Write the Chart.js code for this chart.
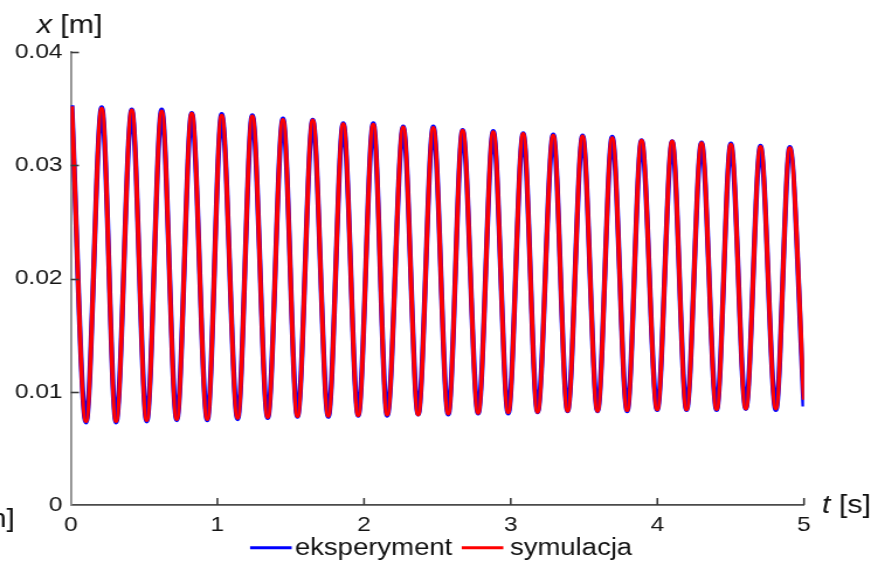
<!DOCTYPE html>
<html><head><meta charset="utf-8">
<script src="https://cdn.jsdelivr.net/npm/chart.js@4/dist/chart.umd.min.js"></script>
<style>
html,body{margin:0;padding:0;background:#fff;overflow:hidden;}
#wrap{width:745px;height:561px;transform:scaleX(1.16913);transform-origin:0 0;}
canvas{display:block;}
</style></head><body>
<div id="wrap"><canvas id="c" width="745" height="561"></canvas></div>
<script>
// ---- data (t in s, x in m) ----
const peakTimes = [0.007, 0.211, 0.416, 0.620, 0.825, 1.029, 1.238, 1.447, 1.650, 1.858, 2.063, 2.267, 2.472, 2.672, 2.881, 3.085, 3.290, 3.490, 3.692, 3.892, 4.101, 4.301, 4.501, 4.703, 4.903];
const troughTimes = [0.104, 0.309, 0.518, 0.723, 0.931, 1.138, 1.343, 1.546, 1.756, 1.960, 2.158, 2.369, 2.574, 2.778, 2.983, 3.183, 3.388, 3.592, 3.794, 3.999, 4.199, 4.404, 4.603, 4.808];
const endTime = 5.0;

const simPeaks = [0.0352, 0.0350, 0.03485, 0.03476, 0.03456, 0.03438, 0.03432, 0.0340, 0.03397, 0.03364, 0.03359, 0.03335, 0.03329, 0.03306, 0.03293, 0.03276, 0.03261, 0.03255, 0.03240, 0.03217, 0.03211, 0.03196, 0.03182, 0.03161, 0.03152];
const simTroughs = [0.0074, 0.0074, 0.00749, 0.00758, 0.00758, 0.0077, 0.00776, 0.00784, 0.00788, 0.00793, 0.00799, 0.00799, 0.00808, 0.00814, 0.00817, 0.00823, 0.00832, 0.00832, 0.00837, 0.00844, 0.00844, 0.00846, 0.00852, 0.00852];
const simEnd = 0.0093;

const expPeaks = [0.0353, 0.0351, 0.0349, 0.0349, 0.0346, 0.0345, 0.0344, 0.0341, 0.0340, 0.0337, 0.0337, 0.0334, 0.0334, 0.0331, 0.0330, 0.0328, 0.0327, 0.0326, 0.0325, 0.0322, 0.0321, 0.0320, 0.0319, 0.0317, 0.0316];
const expTroughs = [0.0073, 0.0073, 0.0074, 0.0075, 0.0075, 0.0076, 0.0077, 0.0078, 0.0078, 0.0079, 0.0079, 0.0080, 0.0080, 0.0081, 0.0081, 0.0082, 0.0083, 0.0083, 0.0083, 0.0084, 0.0084, 0.0084, 0.0085, 0.0084];
const expEnd = 0.0087;

const xTicks = [0, 1, 2, 3, 4, 5];
const yTicks = [0, 0.01, 0.02, 0.03, 0.04];
const seriesNames = ['eksperyment', 'symulacja'];
const xLabel = ['t', ' [s]'];
const yLabel = ['x', ' [m]'];

function buildSeries(peaks, troughs, endVal) {
  const pts = [];
  peakTimes.forEach((t, i) => pts.push({x: t, y: peaks[i]}));
  troughTimes.forEach((t, i) => pts.push({x: t, y: troughs[i]}));
  pts.push({x: endTime, y: endVal});
  pts.sort((a, b) => a.x - b.x);
  return pts;
}

const FONT = "'Liberation Sans', Arial, sans-serif";

const decor = {
  id: 'decor',
  afterDraw(chart) {
    const ctx = chart.ctx;
    const a = chart.chartArea;
    const xs = chart.scales.x, ys = chart.scales.y;
    ctx.save();
    // inward ticks
    ctx.lineWidth = 1.6;
    ctx.strokeStyle = '#3a3a3a';
    yTicks.forEach(v => {
      if (v === 0) return;
      const y = Math.round(ys.getPixelForValue(v)) + 0.5;
      ctx.beginPath(); ctx.moveTo(a.left, y); ctx.lineTo(a.left + 7, y); ctx.stroke();
    });
    xTicks.forEach(v => {
      if (v === 0) return;
      const x = xs.getPixelForValue(v);
      ctx.beginPath(); ctx.moveTo(x, a.bottom); ctx.lineTo(x, a.bottom - 7); ctx.stroke();
    });
    // axis titles
    ctx.fillStyle = '#111';
    ctx.textBaseline = 'alphabetic';
    ctx.textAlign = 'left';
    let x0 = 31.4;
    ctx.font = 'italic 26px ' + FONT;
    ctx.fillText(yLabel[0], x0, 32.5);
    x0 += ctx.measureText(yLabel[0]).width;
    ctx.font = '26px ' + FONT;
    ctx.fillText(yLabel[1], x0, 32.5);

    x0 = 703.1;
    ctx.font = 'italic 26px ' + FONT;
    ctx.fillText(xLabel[0], x0, 512.5);
    x0 += ctx.measureText(xLabel[0]).width;
    ctx.font = '26px ' + FONT;
    ctx.fillText(xLabel[1], x0, 512.5);

    // cut-off label from neighbouring figure at left edge
    ctx.textAlign = 'right';
    ctx.fillText('m]', 12.8, 526.5);

    // legend
    ctx.textAlign = 'left';
    ctx.font = '23.5px ' + FONT;
    const cols = ['#0000ff', '#ff0000'];
    const lx = [[213.9, 249.5, 252.3], [394.9, 430.5, 436.2]];
    for (let i = 0; i < 2; i++) {
      ctx.strokeStyle = cols[i];
      ctx.lineWidth = 3;
      ctx.beginPath(); ctx.moveTo(lx[i][0], 547.7); ctx.lineTo(lx[i][1], 547.7); ctx.stroke();
      ctx.fillStyle = '#111';
      ctx.fillText(seriesNames[i], lx[i][2], 555);
    }
    ctx.restore();
  }
};

new Chart(document.getElementById('c'), {
  type: 'line',
  data: {
    datasets: [
      {label: seriesNames[0], data: buildSeries(expPeaks, expTroughs, expEnd), borderColor: '#0000ff', borderWidth: 4.4, order: 2},
      {label: seriesNames[1], data: buildSeries(simPeaks, simTroughs, simEnd), borderColor: '#ff0000', borderWidth: 3.8, order: 1}
    ]
  },
  options: {
    responsive: false,
    animation: false,
    devicePixelRatio: 1,
    layout: {padding: {left: 0, top: 52, right: 57.3, bottom: 0}},
    elements: {
      point: {radius: 0},
      line: {cubicInterpolationMode: 'monotone', fill: false, borderCapStyle: 'butt'}
    },
    plugins: {legend: {display: false}, tooltip: {enabled: false}},
    scales: {
      x: {
        type: 'linear', min: 0, max: 5,
        grid: {display: false, drawTicks: false},
        border: {display: true, color: '#4a4a4a', width: 1.7},
        afterBuildTicks(s) { s.ticks = xTicks.map(v => ({value: v})); },
        ticks: {padding: 8, color: '#151515', font: {family: FONT, size: 21}, callback: v => String(v)},
        afterFit(s) { s.height = 56; s.paddingLeft = 0; s.paddingRight = 0; }
      },
      y: {
        type: 'linear', min: 0, max: 0.04,
        grid: {display: false, drawTicks: false},
        border: {display: true, color: '#8a8a8a', width: 1.8},
        afterBuildTicks(s) { s.ticks = yTicks.map(v => ({value: v})); },
        ticks: {padding: 7, color: '#151515', font: {family: FONT, size: 21}, callback: v => String(v)},
        afterFit(s) { s.width = 60.5; s.paddingTop = 0; s.paddingBottom = 0; }
      }
    }
  },
  plugins: [decor]
});
</script>
</body></html>
